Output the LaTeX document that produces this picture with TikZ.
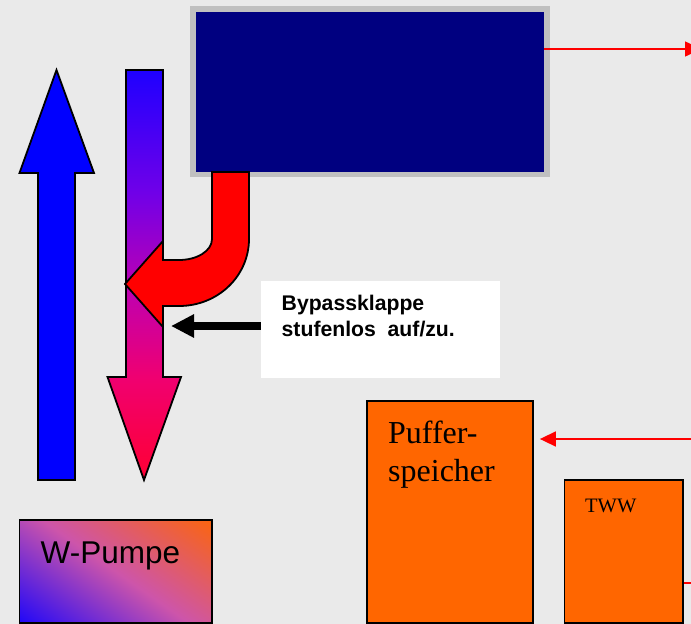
\documentclass[tikz,border=0pt]{standalone}
\usepackage{fontspec}
\setmainfont{Liberation Serif}
\setsansfont{Liberation Sans}
\usetikzlibrary{arrows.meta}
\definecolor{bgGray}{RGB}{234,234,234}
\definecolor{frameGray}{RGB}{192,192,192}
\definecolor{boxNavy}{RGB}{0,0,128}
\definecolor{boxOrange}{RGB}{255,102,0}
\definecolor{flowBlue}{RGB}{0,0,255}
\definecolor{pumpLow}{RGB}{16,0,255}
\definecolor{pumpMid}{RGB}{205,85,170}
\definecolor{pumpHigh}{RGB}{255,102,0}
\pgfdeclareverticalshading{mixshade}{100bp}{rgb(0bp)=(1,0,0.2); rgb(25bp)=(1,0,0.2); rgb(37.5bp)=(0.94,0,0.44); rgb(48bp)=(0.75,0,0.69); rgb(60bp)=(0.44,0,0.91); rgb(75bp)=(0.12,0,1); rgb(100bp)=(0.12,0,1)}
\pgfdeclarehorizontalshading{pumpshade}{100bp}{color(0bp)=(pumpLow); color(12bp)=(pumpLow); color(50bp)=(pumpMid); color(88bp)=(pumpHigh); color(100bp)=(pumpHigh)}
\newcommand\bypassflow{(212,172) -- (249,172) -- (249,239) .. controls (249,276) and (218,306) .. (179,306) -- (163,306) -- (163,327) -- (125,284) -- (163,241) -- (163,260) -- (179,260) .. controls (197,260) and (212,251) .. (212,239) -- cycle}
\begin{document}
\begin{tikzpicture}[x=1pt, y=-1pt,
    outline/.style={draw=black, line width=1.8pt},
    tank/.style={rectangle, outline, fill=boxOrange, inner sep=0pt},
    label/.style={anchor=base west, inner sep=0pt},
    pipe/.style={red, line width=1.6pt},
    pipetip/.style={-{Triangle[length=16pt,width=15pt]}}]
    \useasboundingbox (0,0) rectangle (691,624);
    \clip (0,0) rectangle (691,624);
    \fill[bgGray] (0,0) rectangle (691,624);
    \node (frame) at (370,91.5) [rectangle, fill=frameGray, minimum width=360pt, minimum height=171pt, inner sep=0pt] {};
    \node (navy) at (370,92) [rectangle, fill=boxNavy, minimum width=348pt, minimum height=160pt, inner sep=0pt] {};
    \node (bypass) at (380.5,329.3) [rectangle, fill=white, minimum width=239pt, minimum height=96.6pt, inner sep=0pt] {};
    \node (puffer) at (450,512) [tank, minimum width=166pt, minimum height=222pt] {};
    \node (tww) at (623.75,551.5) [tank, minimum width=118.5pt, minimum height=143pt] {};
    \node (pumpe) at (115.7,571.4) [rectangle, outline, inner sep=0pt, minimum width=192.6pt, minimum height=102.8pt,
        shade, shading=pumpshade, shading angle=55] {};
    \node (t1) at (281.5,310) [label, font=\sffamily\bfseries\fontsize{21.2}{26}\selectfont] {Bypassklappe};
    \node (t2) at (281.5,336.7) [label, font=\sffamily\bfseries\fontsize{21.2}{26}\selectfont] {stufenlos\ \ auf/zu.};
    \node (t3) at (388,443) [label, font=\fontsize{32}{38}\selectfont] {Puffer-};
    \node (t4) at (388,481.7) [label, font=\fontsize{32}{38}\selectfont] {speicher};
    \node (t5) at (585,512.5) [label, font=\fontsize{20.5}{25}\selectfont] {TWW};
    \node (t6) at (40.5,563) [label, font=\sffamily\fontsize{31.5}{38}\selectfont] {W-Pumpe};
    % Vorlauf und Ruecklauf
    \draw[outline, fill=flowBlue] (38,480) -- (75,480) -- (75,173) -- (94,173) -- (56.5,70) -- (19.5,173) -- (38,173) -- cycle;
    \draw[outline, shade, shading=mixshade] (126,70) -- (163,70) -- (163,377) -- (181,377) -- (144,480) -- (107.5,377) -- (126,377) -- cycle;
    \draw[outline, fill=red] \bypassflow;
    % Klappe
    \coordinate (flap) at (171,326);
    \draw[line width=8pt, -{Triangle[length=23pt,width=22pt]}] (bypass.west |- flap) -- (flap);
    % Leitungen
    \coordinate (outtop) at (701,49);
    \coordinate (inpuffer) at (691,439);
    \coordinate (outtww) at (691,582.7);
    \draw[pipe, pipetip] (navy.east |- outtop) -- (outtop);
    \draw[pipe, pipetip, shorten >=6pt] (inpuffer) -- (puffer.east |- inpuffer);
    \draw[pipe] (tww.east |- outtww) -- (outtww);
\end{tikzpicture}
\end{document}
